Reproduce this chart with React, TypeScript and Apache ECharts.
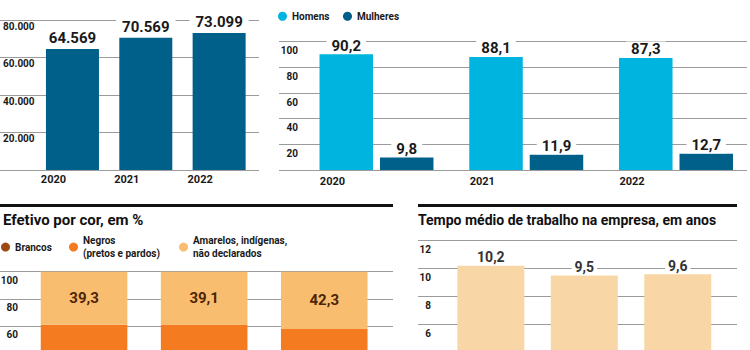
import React, { useEffect, useRef } from 'react';
import * as echarts from 'echarts';

const years = ['2020', '2021', '2022'];
const efetivoTotal = [64569, 70569, 73099];
const homens = [90.2, 88.1, 87.3];
const mulheres = [9.8, 11.9, 12.7];
// Brancos / Negros split lies below the visible crop: estimated
const brancos = [28.4, 27.9, 25.6];
const negros = [32.3, 33.0, 32.1];
const amarelos = [39.3, 39.1, 42.3];
const tempoMedio = [10.2, 9.5, 9.6];

const seriesNames = {
  homens: 'Homens',
  mulheres: 'Mulheres',
  brancos: 'Brancos',
  negros: 'Negros\n(pretos e pardos)',
  amarelos: 'Amarelos, indígenas,\nnão declarados',
};
const titles = ['Efetivo por cor, em %', 'Tempo médio de trabalho na empresa, em anos'];

const FONT = 'Roboto';
const DARK_BLUE = '#00608a';
const CYAN = '#00b4e0';
const BROWN = '#9c4a12';
const ORANGE = '#f47b20';
const LIGHT_ORANGE = '#f9bd6f';
const PEACH = '#f9d6a5';
const GRID_GRAY = '#9b9b9b';

const thousands = (v: number) => String(Math.round(v)).replace(/\B(?=(\d{3})+(?!\d))/g, '.');
const decimal = (v: number) => v.toFixed(1).replace('.', ',');

const splitLine = { show: true, lineStyle: { color: GRID_GRAY, width: 1 } };
const tickLabel = { fontFamily: FONT, fontWeight: 'bold' as const, fontSize: 10, color: '#1a1a1a', lineHeight: 12 };

function frameY(gridIndex: number, max: number, interval: number, label: any) {
  return {
    gridIndex, type: 'value', min: 0, max, interval,
    axisLine: { show: false }, axisTick: { show: false }, splitLine,
    axisLabel: { inside: true, verticalAlign: 'top', ...tickLabel, ...label },
  };
}
function hiddenY(gridIndex: number, max: number) {
  return { gridIndex, type: 'value', min: 0, max, show: false };
}
function hiddenX(gridIndex: number) {
  return { gridIndex, type: 'category', data: years, show: false };
}

export default function App() {
  const ref = useRef<HTMLDivElement>(null);
  useEffect(() => {
    if (!ref.current) return;
    const chart = echarts.init(ref.current, null, { renderer: 'svg' });
    const grid = (left: number, top: number, width: number, height: number) => ({
      left, top, width, height, containLabel: false, outerBoundsMode: 'none',
    });
    const valueLabel = (fmt: (v: number) => string, distance: number, fontSize: number, color: string, padH: number) => ({
      show: true, position: 'top', distance,
      formatter: (p: any) => fmt(p.value),
      fontFamily: FONT, fontWeight: 'bold', fontSize, color, lineHeight: 16,
      backgroundColor: '#ffffff', padding: [0, padH],
    });
    const legendText = { fontFamily: FONT, fontWeight: 'bold', fontSize: 10, color: '#1a1a1a', lineHeight: 13.5 };
    const legendBase = {
      orient: 'horizontal', padding: 0, itemWidth: 9, itemHeight: 9, icon: 'circle',
      selectedMode: false,
      textStyle: legendText,
    };
    const legendMulti = {
      ...legendBase,
      textStyle: { ...legendText, padding: [13.5, 0, 0, 0] },
    };
    const titleStyle = { fontFamily: FONT, fontSize: 15, fontWeight: 'bold', color: '#111', lineHeight: 18 };

    chart.setOption({
      animation: false,
      backgroundColor: '#ffffff',
      title: [
        { text: titles[0], left: 3, top: 211, padding: 0, textStyle: titleStyle },
        { text: titles[1], left: 418, top: 211, padding: 0, textStyle: { ...titleStyle, fontSize: 14 } },
      ],
      legend: [
        { ...legendBase, data: [seriesNames.homens], left: 278, top: 9.5 },
        { ...legendBase, data: [seriesNames.mulheres], left: 343, top: 9.5 },
        { ...legendBase, data: [seriesNames.brancos], left: 1, top: 240.3 },
        { ...legendMulti, data: [seriesNames.negros], left: 69, top: 226.8 },
        { ...legendMulti, data: [seriesNames.amarelos], left: 179, top: 226.8 },
      ],
      graphic: [
        { type: 'rect', shape: { x: 0, y: 204, width: 393, height: 3 }, style: { fill: '#111' } },
        { type: 'rect', shape: { x: 418, y: 204, width: 319, height: 3 }, style: { fill: '#111' } },
      ],
      grid: [
        grid(0, 20, 259, 150),
        grid(35.8, 20, 220, 150),
        grid(279, 41.7, 468, 128.3),
        grid(301.6, 41.7, 449.3, 128.3),
        grid(0, 271.7, 393, 135.3),
        grid(24, 271.7, 360.3, 135.3),
        grid(418, 240.7, 319, 167.3),
        grid(444.1, 240.7, 280.4, 167.3),
      ],
      xAxis: [
        hiddenX(0),
        {
          gridIndex: 1, type: 'category', data: years,
          axisLine: { show: false }, axisTick: { show: false },
          axisLabel: { interval: 0, margin: 3, padding: [0, 38, 0, 0], ...tickLabel, fontSize: 11 },
        },
        hiddenX(2),
        {
          gridIndex: 3, type: 'category', data: years,
          axisLine: { show: false }, axisTick: { show: false },
          axisLabel: { interval: 0, margin: 5, padding: [0, 88, 0, 0], ...tickLabel, fontSize: 11 },
        },
        hiddenX(4),
        { gridIndex: 5, type: 'category', data: years, axisLine: { show: false }, axisTick: { show: false }, axisLabel: { show: false } },
        hiddenX(6),
        { gridIndex: 7, type: 'category', data: years, axisLine: { show: false }, axisTick: { show: false }, axisLabel: { show: false } },
      ],
      yAxis: [
        frameY(0, 80000, 20000, { align: 'left', margin: 3, formatter: (v: number) => (v === 0 ? '' : thousands(v)) }),
        hiddenY(1, 80000),
        frameY(2, 100, 20, { align: 'right', margin: 19, padding: [3, 0, 0, 0], formatter: (v: number) => (v === 0 ? '' : String(v)) }),
        hiddenY(3, 100),
        frameY(4, 100, 20, { align: 'right', margin: 18, padding: [3, 0, 0, 0], formatter: (v: number) => (v < 60 ? '' : String(v)) }),
        hiddenY(5, 100),
        frameY(6, 12, 2, { align: 'right', margin: 13, padding: [3, 0, 0, 0], formatter: (v: number) => (v < 6 ? '' : String(v)) }),
        hiddenY(7, 12),
      ],
      series: [
        {
          type: 'bar', xAxisIndex: 1, yAxisIndex: 1, data: efetivoTotal, barWidth: 53,
          itemStyle: { color: DARK_BLUE },
          label: valueLabel(thousands, 2.5, 15, '#1a1a1a', 6),
        },
        {
          name: seriesNames.homens, type: 'bar', xAxisIndex: 3, yAxisIndex: 3, data: homens,
          barWidth: 53.5, barGap: '13%', itemStyle: { color: CYAN },
          label: valueLabel(decimal, 0.5, 15, '#1a1a1a', 5),
        },
        {
          name: seriesNames.mulheres, type: 'bar', xAxisIndex: 3, yAxisIndex: 3, data: mulheres,
          barWidth: 53.5, barGap: '13%', itemStyle: { color: DARK_BLUE },
          label: valueLabel(decimal, 0.5, 15, '#1a1a1a', 5),
        },
        {
          name: seriesNames.brancos, type: 'bar', stack: 'cor', xAxisIndex: 5, yAxisIndex: 5, data: brancos,
          barWidth: 86.6, itemStyle: { color: BROWN },
        },
        {
          name: seriesNames.negros, type: 'bar', stack: 'cor', xAxisIndex: 5, yAxisIndex: 5, data: negros,
          barWidth: 86.6, itemStyle: { color: ORANGE },
        },
        {
          name: seriesNames.amarelos, type: 'bar', stack: 'cor', xAxisIndex: 5, yAxisIndex: 5, data: amarelos,
          barWidth: 86.6, itemStyle: { color: LIGHT_ORANGE },
          label: {
            show: true, position: 'inside', formatter: (p: any) => decimal(p.value),
            fontFamily: FONT, fontWeight: 'bold', fontSize: 15, color: '#4d2508',
          },
        },
        {
          type: 'bar', xAxisIndex: 7, yAxisIndex: 7, data: tempoMedio, barWidth: 67,
          itemStyle: { color: PEACH },
          label: valueLabel(decimal, 0.5, 14, '#333333', 3),
        },
      ],
    });
    return () => chart.dispose();
  }, []);
  return (
    <div
      ref={ref}
      style={{ position: 'absolute', left: 0, top: 0, width: 750, height: 350, background: '#fff' }}
    />
  );
}
